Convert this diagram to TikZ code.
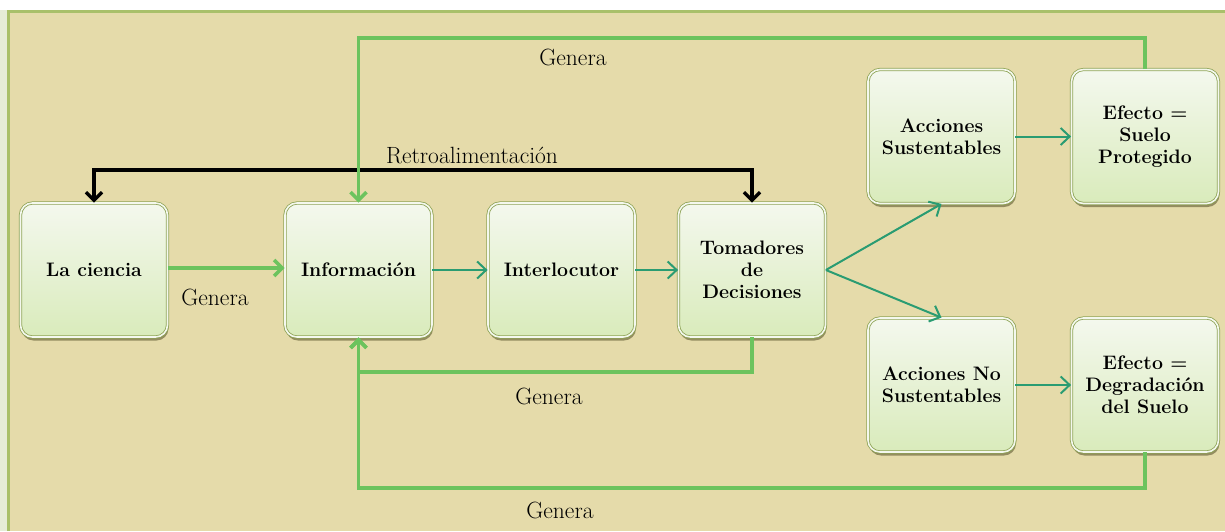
\documentclass[tikz,border=0pt]{standalone}
\usetikzlibrary{arrows.meta,shadows,calc}
\definecolor{bgbeige}{HTML}{E5DBAA}
\definecolor{frameg}{HTML}{A9C06A}
\definecolor{leftstrip}{HTML}{E6EDD8}
\definecolor{lgreen}{HTML}{6CC35E}
\definecolor{tealg}{HTML}{2A9C72}
\definecolor{boxedge}{HTML}{8EA356}
\definecolor{boxtop}{HTML}{F4F8EE}
\definecolor{boxbot}{HTML}{D9EBBB}
\definecolor{boxshadow}{HTML}{5E5A30}
\tikzset{
  box/.style={rectangle, rounded corners=12pt, minimum width=147pt, minimum height=134pt,
    top color=boxtop, bottom color=boxbot, draw=boxedge, line width=0.8pt,
    double=boxtop, double distance=1.6pt,
    drop shadow={shadow xshift=1pt, shadow yshift=-3.5pt, opacity=0.6, fill=boxshadow},
    align=center, text=black, font=\fontsize{19.5}{22}\selectfont\bfseries},
  gline/.style={draw=lgreen, line width=3.6pt, -{Straight Barb[length=8pt,width=16pt]}},
  tline/.style={draw=tealg, line width=2pt, -{Straight Barb[length=9pt,width=17pt]}},
  rline/.style={draw=black, line width=3.4pt, {Straight Barb[length=8pt,width=16pt]}-{Straight Barb[length=8pt,width=16pt]}},
  lbl/.style={font=\fontsize{23.5}{26}\selectfont, text=black}
}
\begin{document}
\begin{tikzpicture}[x=1pt,y=-1pt]
\useasboundingbox (0,0) rectangle (1225,531);
\fill[white] (0,0) rectangle (1225,531);
\fill[leftstrip] (0,10) rectangle (8,531);
\fill[bgbeige] (8,10) rectangle (1225,531);
\draw[frameg, line width=3pt] (8.5,531) -- (8.5,11.5) -- (1225,11.5);

% nodes
\node[box] (cien) at (94,270) {La ciencia};
\node[box] (info) at (358.5,270) {Información};
\node[box] (inter) at (561.5,270) {Interlocutor};
\node[box] (toma) at (752,270) {Tomadores\\de\\Decisiones};
\node[box] (accS) at (941.5,136.5) {Acciones\\Sustentables};
\node[box] (efP) at (1145,136.5) {Efecto =\\Suelo\\Protegido};
\node[box] (accN) at (941.5,385) {Acciones No\\Sustentables};
\node[box] (efD) at (1145,385) {Efecto =\\Degradación\\del Suelo};

% coordinates for loops
\coordinate (topy) at (0,38);
\coordinate (retroy) at (0,170);
\coordinate (lowa) at (0,372);
\coordinate (lowb) at (0,488);

% connectors
\draw[gline] (cien.east |- 0,268) -- (info.west |- 0,268);
\draw[tline] (info.east) -- (inter.west);
\draw[tline] (inter.east) -- (toma.west);
\draw[tline] (toma.east) -- (accS.south);
\draw[tline] (toma.east) -- (accN.north);
\draw[tline] (accS.east) -- (efP.west);
\draw[tline] (accN.east) -- (efD.west);

\draw[rline] (cien.north) -- (cien.north |- retroy) -| (toma.north);
\draw[gline] (efP.north) -- (efP.north |- topy) -| (info.north);
\draw[gline] (toma.south) -- (toma.south |- lowa) -| (info.south);
\draw[gline] (efD.south) -- (efD.south |- lowb) -| (info.south);

% labels
\node[lbl] (g1) at (215,297) {Genera};
\node[lbl] (r1) at (472,156) {Retroalimentación};
\node[lbl] (g2) at (573,57) {Genera};
\node[lbl] (g3) at (549,396) {Genera};
\node[lbl] (g4) at (560,510) {Genera};
\end{tikzpicture}
\end{document}
